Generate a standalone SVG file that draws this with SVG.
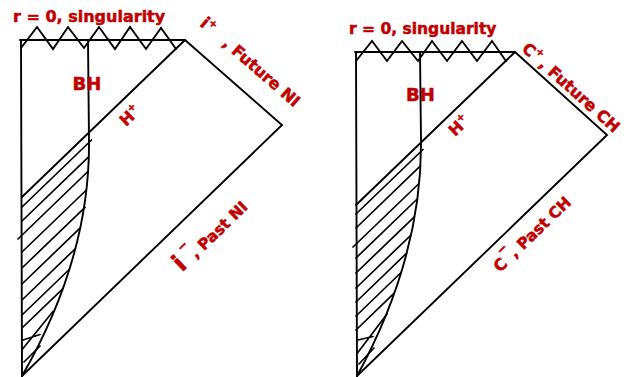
<svg xmlns="http://www.w3.org/2000/svg" width="641" height="377" viewBox="0 0 641 377">
<style>
.ln{fill:none;stroke:#000;stroke-width:1.9;stroke-linejoin:miter;stroke-linecap:round}
.ht{fill:none;stroke:#000;stroke-width:1.7;stroke-linecap:round}
.lbl{font-family:"DejaVu Sans","Liberation Sans",sans-serif;font-weight:bold;fill:#c00000;stroke:#c00000;stroke-width:0.5}
</style>
<rect width="641" height="377" fill="#fff"/>
<g id="left-diagram">
  <g id="left-boundary">
    <path class="ln" d="M20,40 H185 L282,125 L22,376 L21,40"/>
    <path class="ln" d="M185,40 L22,197"/>
    <path class="ln" d="M88,40 L89,140 C90,230 60,310 22,376"/>
  </g>
  <polyline id="left-singularity" class="ln" points="21,48 37,27 53,49 68,27 84,48 99,27 115,49 130,27 146,49 161,28 176,49"/>
  <g id="left-hatching" class="ht">
    <path d="M22,207 L91.5,140 M22,221 L88.6,156.9 M18,239 L87.9,171.5 M22,252 L85.9,190.5 M22,268 L85,207.3 M22,284 L79.7,228.4 M22,300 L75.2,248.8 M22,315 L69.2,269.5 M22,328 L62.7,288.8 M23,340 L40,334.5 M22.5,349 L53,311.5 M24,362 L40,346"/>
  </g>
  <g id="left-labels" class="lbl">
    <text x="13" y="22" font-size="16">r = 0, singularity</text>
    <text x="72.5" y="90" font-size="18">BH</text>
    <text transform="translate(126,127) rotate(-44)" font-size="16">H<tspan font-size="10" dy="-7">+</tspan></text>
    <text transform="translate(199,25) rotate(41)" font-size="17">i<tspan font-size="10" dy="-7">+</tspan><tspan font-size="16" x="30" dy="7">, Future NI</tspan></text>
    <text transform="translate(182,272.5) rotate(-44)" font-size="25">i<tspan font-size="12" x="13.7" dy="-15">−</tspan><tspan font-size="15.5" x="19.3" dy="15">, Past NI</tspan></text>
  </g>
</g>
<g id="right-diagram">
  <g id="right-boundary">
    <path class="ln" d="M355,52 H515 L607,135 L357,376 L356,52"/>
    <path class="ln" d="M515,52 L356,205"/>
    <path class="ln" d="M420,52 L421,140 C422,230 393,310 357,376"/>
  </g>
  <polyline id="right-singularity" class="ln" points="356,61 372,41 387,61 402,41 418,61 432,41 447,61 462,41 477,61 492,41 506,61"/>
  <g id="right-hatching" class="ht">
    <path d="M356,214 L423,149.5 M356,228 L420.4,165.9 M353,247 L418.5,184 M356,258 L417.2,199 M356,273 L414.3,216.8 M356,288 L410.7,235.3 M356,302 L406.5,253.3 M356,316 L401.1,272.5 M356,330 L394.2,293.2 M358,340 L373,336.5 M357.5,353 L387,314 M359,364 L374,348"/>
  </g>
  <g id="right-labels" class="lbl">
    <text x="349" y="34" font-size="15.5">r = 0, singularity</text>
    <text x="406" y="100.7" font-size="18">BH</text>
    <text transform="translate(455,137) rotate(-44)" font-size="16">H<tspan font-size="10" dy="-7">+</tspan></text>
    <text transform="translate(521,50) rotate(42)" font-size="16">C<tspan font-size="10" dy="-8">+</tspan><tspan x="23" dy="8">, Future CH</tspan></text>
    <text transform="translate(500,273) rotate(-44)" font-size="16">C<tspan font-size="12" x="13" dy="-12">−</tspan><tspan font-size="15.5" x="21" dy="12">, Past CH</tspan></text>
  </g>
</g>
</svg>
